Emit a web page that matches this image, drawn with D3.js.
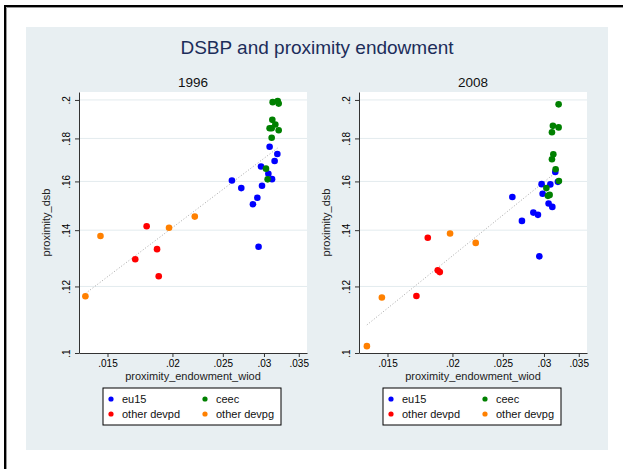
<!DOCTYPE html>
<html>
<head>
<meta charset="utf-8">
<script src="https://cdn.jsdelivr.net/npm/d3@7"></script>
<style>
  body { margin: 0; background: #fff; overflow: hidden; }
  svg { display: block; }
  text { font-family: Arial, "Liberation Sans", Helvetica, sans-serif; }
</style>
</head>
<body>
<svg id="chart" width="623" height="469"></svg>
<script>
// values: [proximity_endowment_wiod, proximity_dsb]
const eu15_1996 = [
  [0.03076, 0.1759], [0.03183, 0.1725], [0.03145, 0.1692], [0.02961, 0.1667],
  [0.03059, 0.1634], [0.03109, 0.1610], [0.02974, 0.1581], [0.02603, 0.1604],
  [0.02713, 0.1571], [0.02913, 0.1530], [0.02857, 0.1503], [0.02929, 0.1338]
];
const ceec_1996 = [
  [0.03118, 0.1988], [0.03188, 0.1994], [0.03202, 0.1980], [0.03113, 0.1894],
  [0.03155, 0.1870], [0.03076, 0.1851], [0.03104, 0.1851], [0.03202, 0.1841],
  [0.03104, 0.1803], [0.03027, 0.1657], [0.03049, 0.1609]
];
const devpd_1996 = [
  [0.01784, 0.1415], [0.01868, 0.1329], [0.01696, 0.1293], [0.01882, 0.1234]
];
const devpg_1996 = [
  [0.01454, 0.1378], [0.01970, 0.1409], [0.02208, 0.1453], [0.01360, 0.1168]
];

const eu15_2008 = [
  [0.03154, 0.1642], [0.02969, 0.1588], [0.03086, 0.1587], [0.03191, 0.1598],
  [0.02982, 0.1547], [0.03062, 0.1506], [0.03113, 0.1492], [0.02608, 0.1533],
  [0.02721, 0.1436], [0.02862, 0.1469], [0.02921, 0.1460], [0.02939, 0.1303]
];
const ceec_2008 = [
  [0.03201, 0.1976], [0.03121, 0.1863], [0.03201, 0.1855], [0.03108, 0.1831],
  [0.03127, 0.1723], [0.03108, 0.1700], [0.03159, 0.1654], [0.03205, 0.1602],
  [0.03032, 0.1571], [0.03076, 0.1542], [0.03053, 0.1538]
];
const devpd_2008 = [
  [0.01793, 0.1371], [0.01874, 0.1254], [0.01891, 0.1248], [0.01705, 0.1169]
];
const devpg_2008 = [
  [0.01979, 0.1387], [0.02217, 0.1352], [0.01463, 0.1164], [0.01369, 0.1019]
];

const groupNames = ['eu15', 'ceec', 'other devpd', 'other devpg'];
const groupColors = ['#0000ff', '#008000', '#ff0000', '#ff8000'];
const xTicks = [0.015, 0.02, 0.025, 0.03, 0.035];
const yTicks = [0.1, 0.12, 0.14, 0.16, 0.18, 0.2];
const tickLabel = v => String(+v.toFixed(3)).replace(/^0/, '');

const panels = [
  { title: '1996', groups: [eu15_1996, ceec_1996, devpd_1996, devpg_1996], left: 79 },
  { title: '2008', groups: [eu15_2008, ceec_2008, devpd_2008, devpg_2008], left: 359 }
];

const svg = d3.select('#chart');

// outer frame (only its top and left edges are in view) + graph region
svg.append('path').attr('d', 'M5,469V6H623')
  .attr('fill', 'none').attr('stroke', '#000').attr('stroke-width', 2);
svg.append('path').attr('d', 'M6.5,469V7.5H623')
  .attr('fill', 'none').attr('stroke', '#999').attr('stroke-width', 1);
svg.append('rect').attr('x', 26).attr('y', 27).attr('width', 582).attr('height', 423)
  .attr('fill', '#e8eff2');

svg.append('text')
  .attr('x', 317).attr('y', 54)
  .attr('text-anchor', 'middle')
  .attr('font-size', 19)
  .attr('fill', '#1c2d5a')
  .text('DSBP and proximity endowment');

const plotW = 228, plotTop = 92, plotBottom = 353;

panels.forEach(p => {
  const x = d3.scaleLog().domain([0.01322, 0.0363]).range([p.left, p.left + plotW]);
  const y = d3.scaleLog().domain([0.1, 0.2044]).range([plotBottom, plotTop]);
  const g = svg.append('g');

  g.append('text')
    .attr('x', p.left + plotW / 2).attr('y', 87)
    .attr('text-anchor', 'middle').attr('font-size', 13.5).attr('fill', '#111')
    .text(p.title);

  g.append('rect')
    .attr('x', p.left).attr('y', plotTop)
    .attr('width', plotW).attr('height', plotBottom - plotTop)
    .attr('fill', '#fff');

  // grid
  g.selectAll('line.grid')
    .data(yTicks.filter(v => v > 0.1))
    .enter().append('line')
    .attr('x1', p.left).attr('x2', p.left + plotW)
    .attr('y1', d => y(d)).attr('y2', d => y(d))
    .attr('stroke', '#e3ebee').attr('stroke-width', 1);

  // y axis
  const yAxis = d3.axisLeft(y).tickValues(yTicks).tickFormat('').tickSize(4).tickSizeOuter(0);
  const ya = g.append('g').attr('transform', `translate(${p.left},0)`).call(yAxis);
  ya.select('.domain').attr('stroke', '#333');
  ya.selectAll('.tick line').attr('stroke', '#333');
  ya.selectAll('.tick').append('text')
    .attr('transform', 'translate(-9,0) rotate(-90)')
    .attr('text-anchor', 'middle')
    .attr('font-size', 10).attr('fill', '#000')
    .text(d => tickLabel(d));

  // x axis
  const xAxis = d3.axisBottom(x).tickValues(xTicks).tickFormat(tickLabel).tickSize(4).tickSizeOuter(0);
  const xa = g.append('g').attr('transform', `translate(0,${plotBottom})`).call(xAxis);
  xa.select('.domain').attr('stroke', '#333');
  xa.selectAll('.tick line').attr('stroke', '#333');
  xa.selectAll('.tick text')
    .attr('font-size', 10).attr('fill', '#000')
    .attr('font-family', 'Arial, "Liberation Sans", sans-serif')
    .attr('dy', null).attr('y', 14);

  g.append('text')
    .attr('x', p.left + plotW / 2).attr('y', 380)
    .attr('text-anchor', 'middle').attr('font-size', 11).attr('fill', '#222')
    .text('proximity_endowment_wiod');

  g.append('text')
    .attr('transform', `translate(${p.left - 29},${(plotTop + plotBottom) / 2}) rotate(-90)`)
    .attr('text-anchor', 'middle').attr('font-size', 11).attr('fill', '#222')
    .text('proximity_dsb');

  // linear fit on log scales
  const all = p.groups.flat();
  const lx = all.map(d => Math.log(d[0])), ly = all.map(d => Math.log(d[1]));
  const mx = d3.mean(lx), my = d3.mean(ly);
  const b = d3.sum(lx, (v, i) => (v - mx) * (ly[i] - my)) / d3.sum(lx, v => (v - mx) * (v - mx));
  const a = my - b * mx;
  const xr = d3.extent(all, d => d[0]);
  const fit = xr.map(v => [v, Math.exp(a + b * Math.log(v))]);
  g.append('path')
    .datum(fit)
    .attr('d', d3.line().x(d => x(d[0])).y(d => y(d[1])))
    .attr('fill', 'none').attr('stroke', '#a8a8a8')
    .attr('stroke-width', 1).attr('stroke-dasharray', '1,2');

  p.groups.forEach((pts, gi) => {
    g.selectAll(null).data(pts).enter().append('circle')
      .attr('cx', d => x(d[0])).attr('cy', d => y(d[1]))
      .attr('r', 3.3).attr('fill', groupColors[gi]);
  });

  // legend
  const lg = g.append('g').attr('transform', `translate(${p.left + 24},388)`);
  lg.append('rect').attr('width', 178).attr('height', 37)
    .attr('fill', '#fff').attr('stroke', '#000').attr('stroke-width', 1);
  groupNames.forEach((name, i) => {
    const cx = (i % 2) * 94 + 8, cy = Math.floor(i / 2) * 15 + 11;
    lg.append('circle').attr('cx', cx).attr('cy', cy).attr('r', 2.6).attr('fill', groupColors[i]);
    lg.append('text').attr('x', cx + 11).attr('y', cy + 4)
      .attr('font-size', 11).attr('fill', '#111').text(name);
  });
});
</script>
</body>
</html>
